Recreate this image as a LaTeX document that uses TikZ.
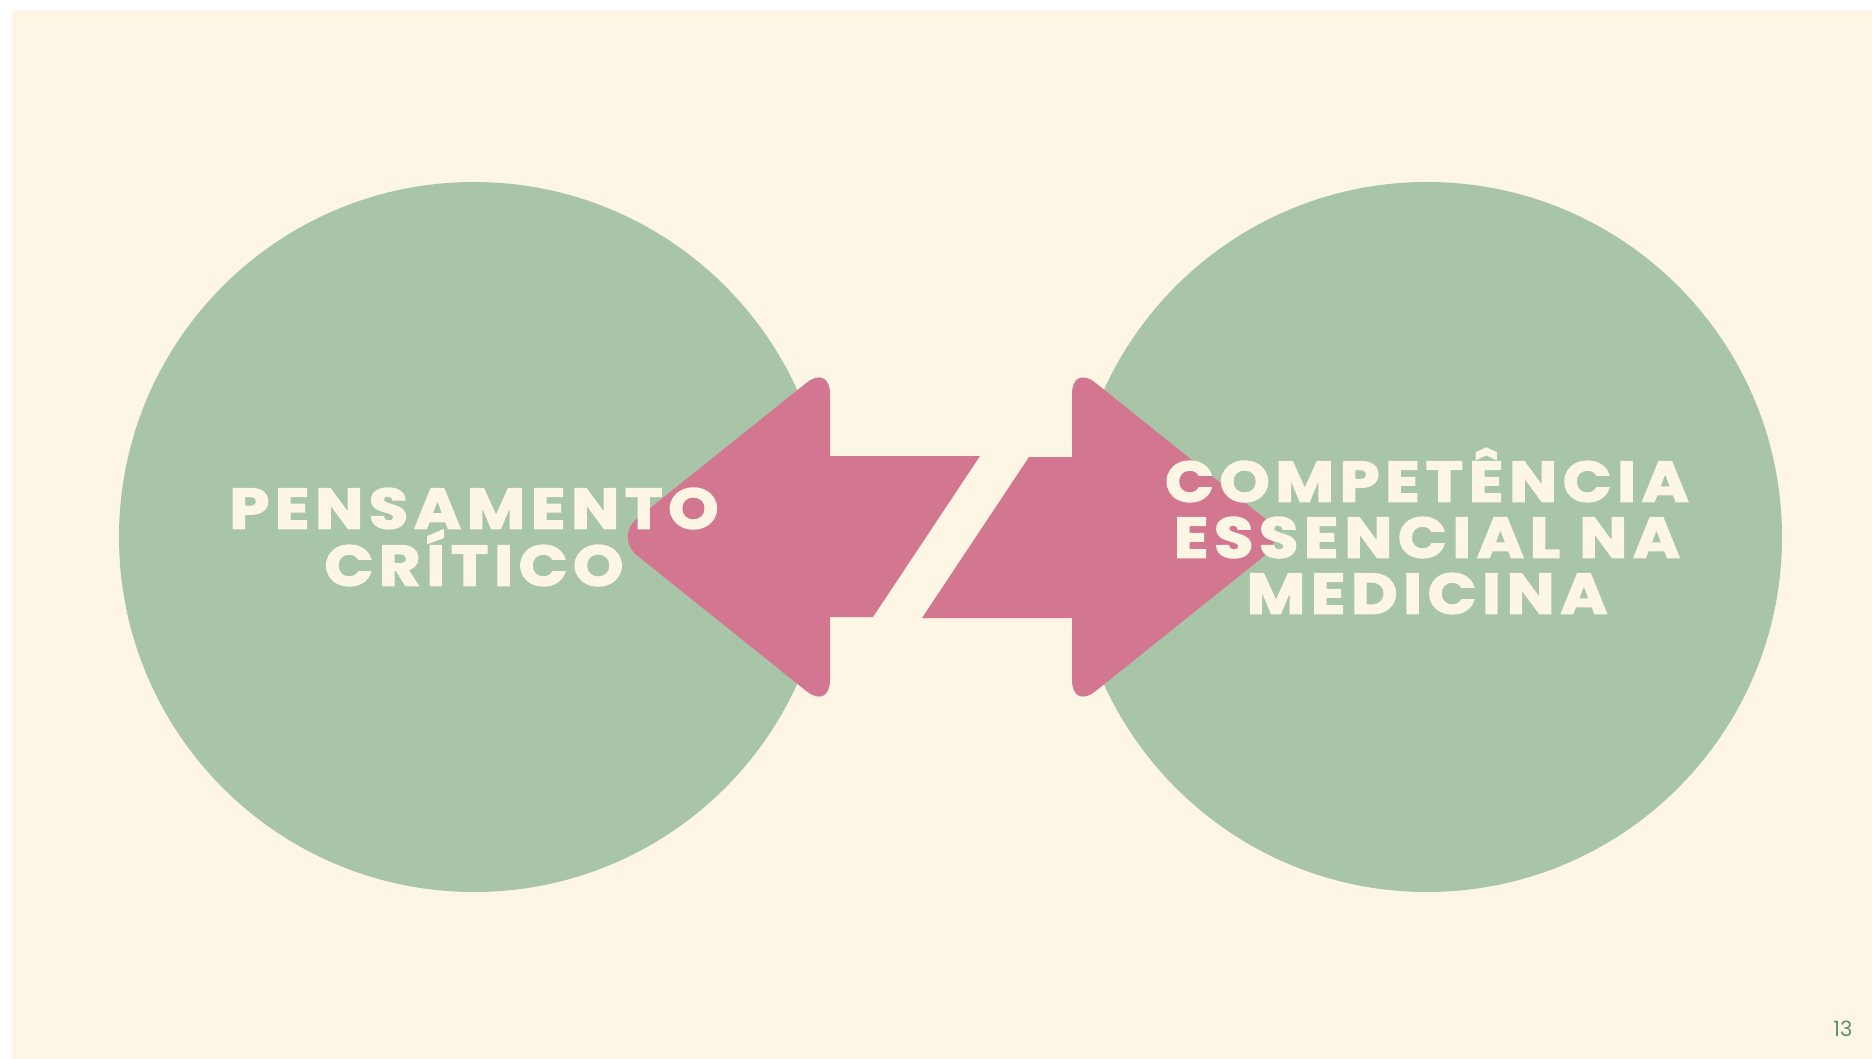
\documentclass[tikz,border=0pt]{standalone}
\usepackage{fontspec}
\setmainfont{Poppins}
\newfontfamily\headfont{Poppins}[LetterSpace=10, FakeStretch=1.12, BoldFeatures={FakeBold=2.6}]
\definecolor{cream}{HTML}{FDF6E4}
\definecolor{sage}{HTML}{A8C5A8}
\definecolor{rose}{HTML}{D37790}
\definecolor{leaf}{HTML}{5E8F6E}
\begin{document}
\begin{tikzpicture}[x=1pt,y=-1pt]
      \useasboundingbox (0,0) rectangle (1872,1059);
      \fill[white] (0,0) rectangle (1872,1059);
      \fill[cream] (12,10) rectangle (1872,1059);
      \def \Circles{
        pens/474,
        comp/1427}
      \foreach \id / \x in \Circles{
        \node[circle,fill=sage,inner sep=0,minimum size=710pt] (\id) at (\x, 537) {};
      }
      \foreach \r in {0,180}{
        \fill[rose,rotate around={\r:(951,537)}] (980,456) -- (830,456)
          [rounded corners=30pt] -- (830,364) -- (614,537) -- (830,710)
          [sharp corners] -- (830,617) -- (873,617) -- cycle;
      }
      \node[text=cream,align=center,font=\headfont\bfseries\fontsize{57}{56}\selectfont] (pensT) at (pens) {PENSAMENTO\\CRÍTICO};
      \node[text=cream,align=center,font=\headfont\bfseries\fontsize{57}{56}\selectfont,yshift=6pt] (compT) at (comp) {COMPETÊNCIA\\ESSENCIAL NA\\MEDICINA};
      \node[text=leaf,font=\fontsize{21}{24}\selectfont] (num) at (1843, 1029) {13};
\end{tikzpicture}
\end{document}
